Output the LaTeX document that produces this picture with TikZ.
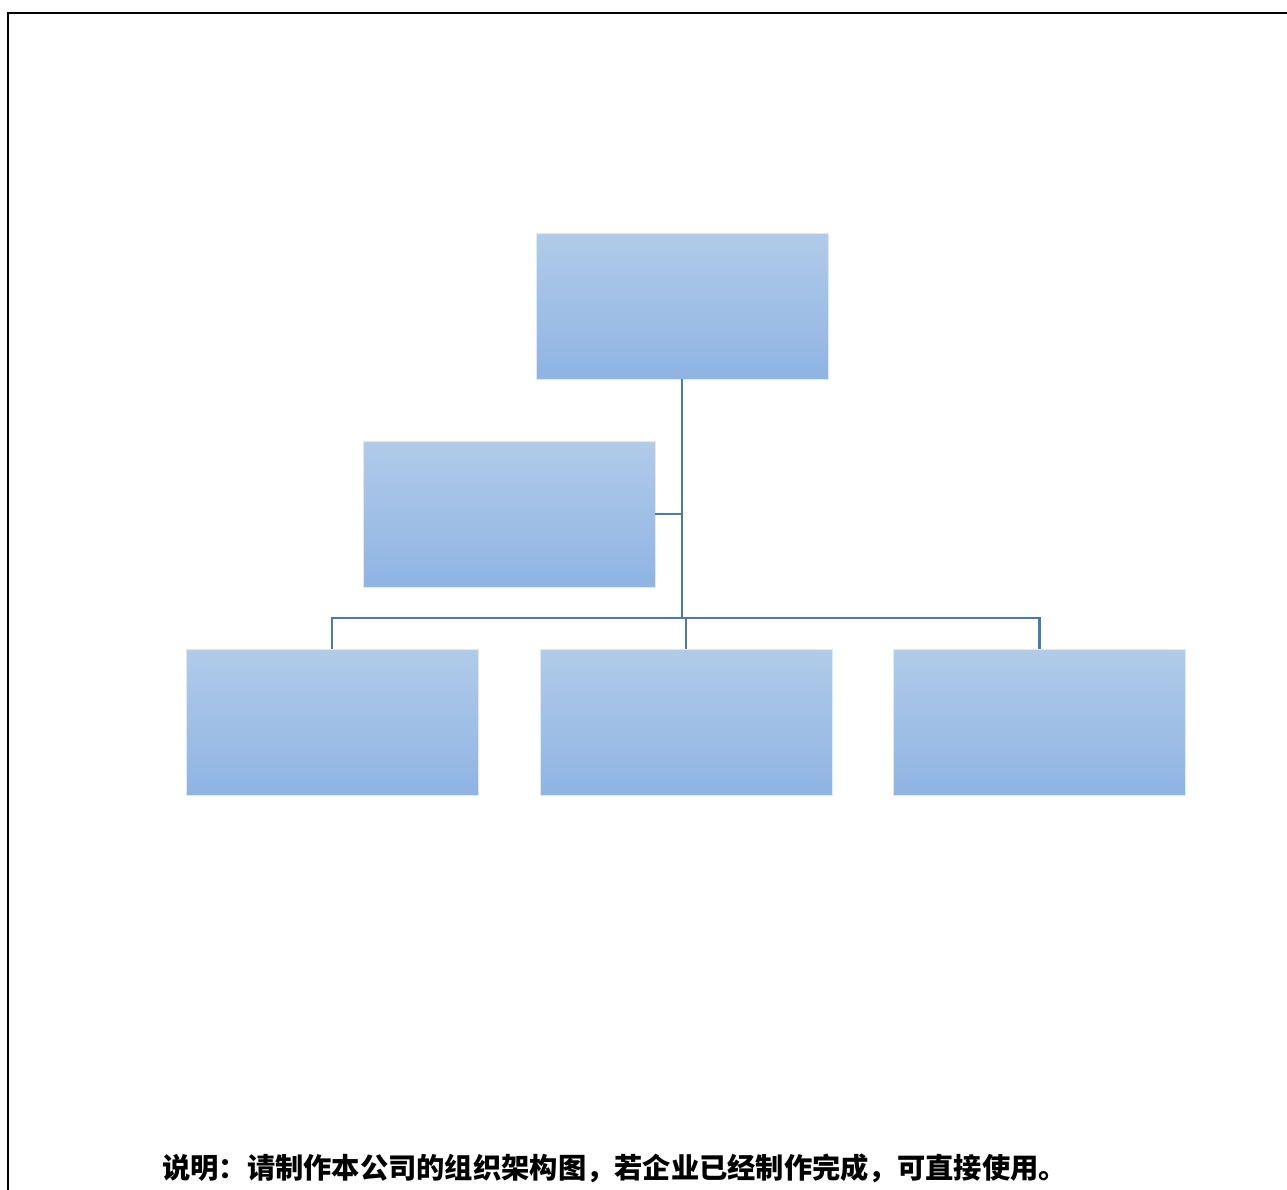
\documentclass[tikz,border=0pt]{standalone}
\usepackage{fontspec}
\newfontfamily\cjk{Noto Sans CJK SC}
\usetikzlibrary{positioning}
\definecolor{boxtop}{HTML}{B1CBE9}
\definecolor{boxbottom}{HTML}{8FB4E3}
\definecolor{linkblue}{HTML}{4A7BB0}
\tikzset{
  orgbox/.style={rectangle, minimum width=219pt, minimum height=109.5pt, inner sep=0pt,
    top color=boxtop, bottom color=boxbottom, draw=boxtop!40, line width=0.4pt},
  orglink/.style={draw=linkblue, line width=2.1pt}
}
\begin{document}
\begin{tikzpicture}[x=0.75pt, y=-0.75pt]
  \useasboundingbox (0,0) rectangle (1287,1189);
  % Frame
  \draw[line width=2.2pt] (8,1195) -- (8,13) -- (1295,13);

  % Nodes
  \node[orgbox] (chief) at (682,306) {};
  \node[orgbox] (assist) at (509,514) {};
  \node[orgbox] (deptA) at (332,722) {};
  \node[orgbox] (deptB) at (686,722) {};
  \node[orgbox] (deptC) at (1039.5,722) {};

  % Links
  \coordinate (bus) at (682,618);
  \coordinate (busA) at (deptA.north |- bus);
  \coordinate (busC) at (deptC.north |- bus);
  \draw[orglink] (chief.south) -- (bus);
  \draw[orglink] (assist.east) -- (assist.east -| chief.south);
  \draw[orglink] (deptA.north) -- (busA) -- (busC) -- (deptC.north);
  \draw[orglink] (deptB.north) -- (deptB.north |- bus);

  % Note
  \node[anchor=west, inner sep=0pt, font=\cjk\bfseries\fontsize{21.2pt}{24pt}\selectfont] (note) at (162,1168)
    {说明：请制作本公司的组织架构图，若企业已经制作完成，可直接使用。};
\end{tikzpicture}
\end{document}
